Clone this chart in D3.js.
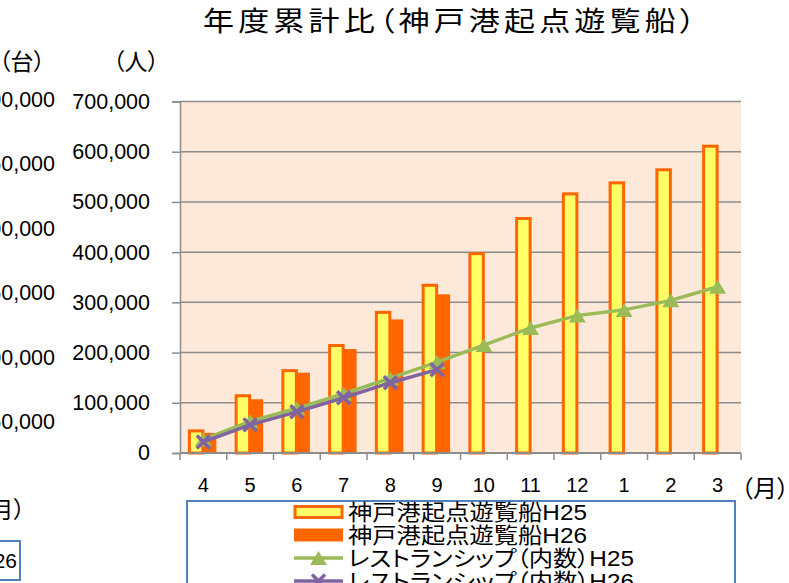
<!DOCTYPE html>
<html><head><meta charset="utf-8">
<script src="https://cdn.jsdelivr.net/npm/d3@7"></script>
<style>
body{margin:0;background:#fff;overflow:hidden;}
svg{display:block;}
.num{font-family:"Liberation Sans",Arial,sans-serif;fill:#000;}
.cjk{font-family:"Liberation Sans","Noto Sans CJK JP",sans-serif;font-feature-settings:"palt";fill:#000;}
</style></head>
<body><svg id="chart" width="789" height="583"></svg>
<script>
// ---- data ----
const months = ["4","5","6","7","8","9","10","11","12","1","2","3"];
const cruiseH25 = [44000,114000,164000,214000,280000,334000,397000,467000,516000,538000,564000,611000];
const cruiseH26 = [40000,107000,160000,207000,266000,316000];
const restH25 = [27000,63000,89000,118000,149000,181000,215000,249000,274000,285000,304000,331000];
const restH26 = [22000,56000,82000,110000,140000,166000];
const yTicks = [0,100000,200000,300000,400000,500000,600000,700000];
const leftTicks = [300000,250000,200000,150000,100000,50000];
const titleText = "年度累計比（神戸港起点遊覧船）";
const yUnit = "（人）", leftUnit = "（台）", xUnit = "（月）", leftXUnit = "（月）", leftLegend = "H26";
const legendLabels = ["神戸港起点遊覧船H25","神戸港起点遊覧船H26","レストランシップ（内数）H25","レストランシップ（内数）H26"];

// ---- colours ----
const C = {bg:"#fde9d9", grid:"#8c8c8c", yellow:"#ffff66", orange:"#ff6600", green:"#9bbb59", purple:"#8064a2", box:"#4f81bd"};

const svg = d3.select("#chart");
const L = 180, R = 741, T = 101.5, B = 453;
const x = d3.scaleBand().domain(months).range([L, R]).padding(0);
const y = d3.scaleLinear().domain([0, 700000]).range([B, T]);
const sub = d3.scaleBand().domain(["H25","H26"]).range([-14, 13]);
const cx = m => x(m) + x.bandwidth()/2;

// ---- left cropped chart remnants ----
const yl = d3.scaleLinear().domain([0, 300000]).range([486, 99.5]);
svg.append("g").selectAll("text").data(leftTicks).join("text")
  .attr("class","num").attr("x",55).attr("y",d=>yl(d)).attr("dy","0.35em")
  .attr("text-anchor","end").style("font-size","21.5px").text(d3.format(","));
svg.append("text").attr("class","cjk").attr("x",-1).attr("y",62).attr("dy","0.35em")
  .style("font-size","23px").text(leftUnit);
svg.append("text").attr("class","cjk").attr("x",-21).attr("y",510).attr("dy","0.35em")
  .style("font-size","23px").text(leftXUnit);
svg.append("rect").attr("x",-60).attr("y",541).attr("width",80).attr("height",39)
  .attr("fill","#fff").attr("stroke",C.box).attr("stroke-width",2);
svg.append("text").attr("class","num").attr("x",17).attr("y",561).attr("dy","0.35em")
  .attr("text-anchor","end").style("font-size","21px").text(leftLegend);

// ---- title ----
svg.append("text").attr("class","cjk")
  .attr("transform","translate(203,22) scale(1.15,1)")
  .attr("dy","0.35em").style("font-size","27px").style("letter-spacing","3.6px")
  .text(titleText);

// ---- plot background & grid ----
svg.append("rect").attr("x",L).attr("y",T).attr("width",R-L).attr("height",B-T).attr("fill",C.bg);
svg.append("g").selectAll("line").data(yTicks.filter(d=>d>0)).join("line")
  .attr("x1",L).attr("x2",R).attr("y1",d=>y(d)).attr("y2",d=>y(d))
  .attr("stroke",C.grid).attr("stroke-width",1.5);

// ---- y axis ----
const yAxis = svg.append("g").attr("transform",`translate(${L},0)`)
  .call(d3.axisLeft(y).tickValues(yTicks).tickSize(8).tickPadding(22).tickFormat(d3.format(",")));
yAxis.select(".domain").attr("stroke",C.grid).attr("stroke-width",1.5);
yAxis.selectAll(".tick line").attr("stroke",C.grid).attr("stroke-width",1.5);
yAxis.selectAll("text").attr("class","num").style("font-size","21.5px").attr("fill","#000");
svg.append("text").attr("class","cjk").attr("x",113).attr("y",62).attr("dy","0.35em")
  .style("font-size","23px").text(yUnit);

// ---- bars ----
svg.append("g").selectAll("rect").data(cruiseH25).join("rect")
  .attr("x",(d,i)=>cx(months[i])+sub("H25")).attr("width",sub.bandwidth())
  .attr("y",d=>y(d)).attr("height",d=>B-y(d))
  .attr("fill",C.yellow).attr("stroke",C.orange).attr("stroke-width",3);
svg.append("g").selectAll("rect").data(cruiseH26).join("rect")
  .attr("x",(d,i)=>cx(months[i])+sub("H26")).attr("width",sub.bandwidth())
  .attr("y",d=>y(d)).attr("height",d=>B-y(d)).attr("fill",C.orange);

// ---- x axis ----
const xb = svg.append("g");
xb.append("line").attr("x1",L).attr("x2",R).attr("y1",B).attr("y2",B).attr("stroke",C.grid).attr("stroke-width",2);
xb.selectAll(".tk").data(months.concat(["end"])).join("line").attr("class","tk")
  .attr("x1",d=>d==="end"?R:x(d)).attr("x2",d=>d==="end"?R:x(d))
  .attr("y1",B).attr("y2",B+7).attr("stroke",C.grid).attr("stroke-width",1.5);
xb.selectAll("text").data(months).join("text").attr("class","num")
  .attr("x",d=>cx(d)).attr("y",485).attr("dy","0.35em").attr("text-anchor","middle")
  .style("font-size","20px").text(d=>d);
svg.append("text").attr("class","cjk").attr("x",741).attr("y",489).attr("dy","0.35em")
  .style("font-size","24px").text(xUnit);

// ---- lines ----
const line = d3.line().x((d,i)=>cx(months[i])).y(d=>y(d));
const tri = "M0,-7L8.5,7L-8.5,7Z";
const cross = "M-6.5,-6.5L6.5,6.5M-6.5,6.5L6.5,-6.5";
svg.append("path").datum(restH25).attr("d",line).attr("fill","none").attr("stroke",C.green).attr("stroke-width",3.5);
svg.append("g").selectAll("path").data(restH25).join("path")
  .attr("transform",(d,i)=>`translate(${cx(months[i])},${y(d)})`).attr("d",tri).attr("fill",C.green);
svg.append("path").datum(restH26).attr("d",line).attr("fill","none").attr("stroke",C.purple).attr("stroke-width",3.5);
svg.append("g").selectAll("path").data(restH26).join("path")
  .attr("transform",(d,i)=>`translate(${cx(months[i])},${y(d)})`).attr("d",cross)
  .attr("fill","none").attr("stroke",C.purple).attr("stroke-width",3.5);

// ---- legend ----
const lg = svg.append("g");
lg.append("rect").attr("x",187).attr("y",501).attr("width",548).attr("height",120)
  .attr("fill","#fff").attr("stroke",C.box).attr("stroke-width",2);
const rowY = i => 512 + i*23;
const sx0 = 294, sx1 = 343;
lg.append("rect").attr("x",sx0+1).attr("y",rowY(0)-5.5).attr("width",sx1-sx0-2).attr("height",11)
  .attr("fill",C.yellow).attr("stroke",C.orange).attr("stroke-width",3);
lg.append("rect").attr("x",sx0).attr("y",rowY(1)-6.5).attr("width",sx1-sx0).attr("height",13).attr("fill",C.orange);
lg.append("line").attr("x1",sx0).attr("x2",sx1).attr("y1",rowY(2)).attr("y2",rowY(2)).attr("stroke",C.green).attr("stroke-width",3.5);
lg.append("path").attr("transform",`translate(${(sx0+sx1)/2},${rowY(2)})`).attr("d",tri).attr("fill",C.green);
lg.append("line").attr("x1",sx0).attr("x2",sx1).attr("y1",rowY(3)).attr("y2",rowY(3)).attr("stroke",C.purple).attr("stroke-width",3.5);
lg.append("path").attr("transform",`translate(${(sx0+sx1)/2},${rowY(3)})`).attr("d",cross)
  .attr("fill","none").attr("stroke",C.purple).attr("stroke-width",3.5);
lg.selectAll(".lt").data(legendLabels).join("text").attr("class","cjk lt")
  .attr("transform",(d,i)=>`translate(348,${rowY(i)}) scale(1.13,1)`).attr("dy","0.35em")
  .style("font-size","21.5px").text(d=>d);
</script>
</body></html>
